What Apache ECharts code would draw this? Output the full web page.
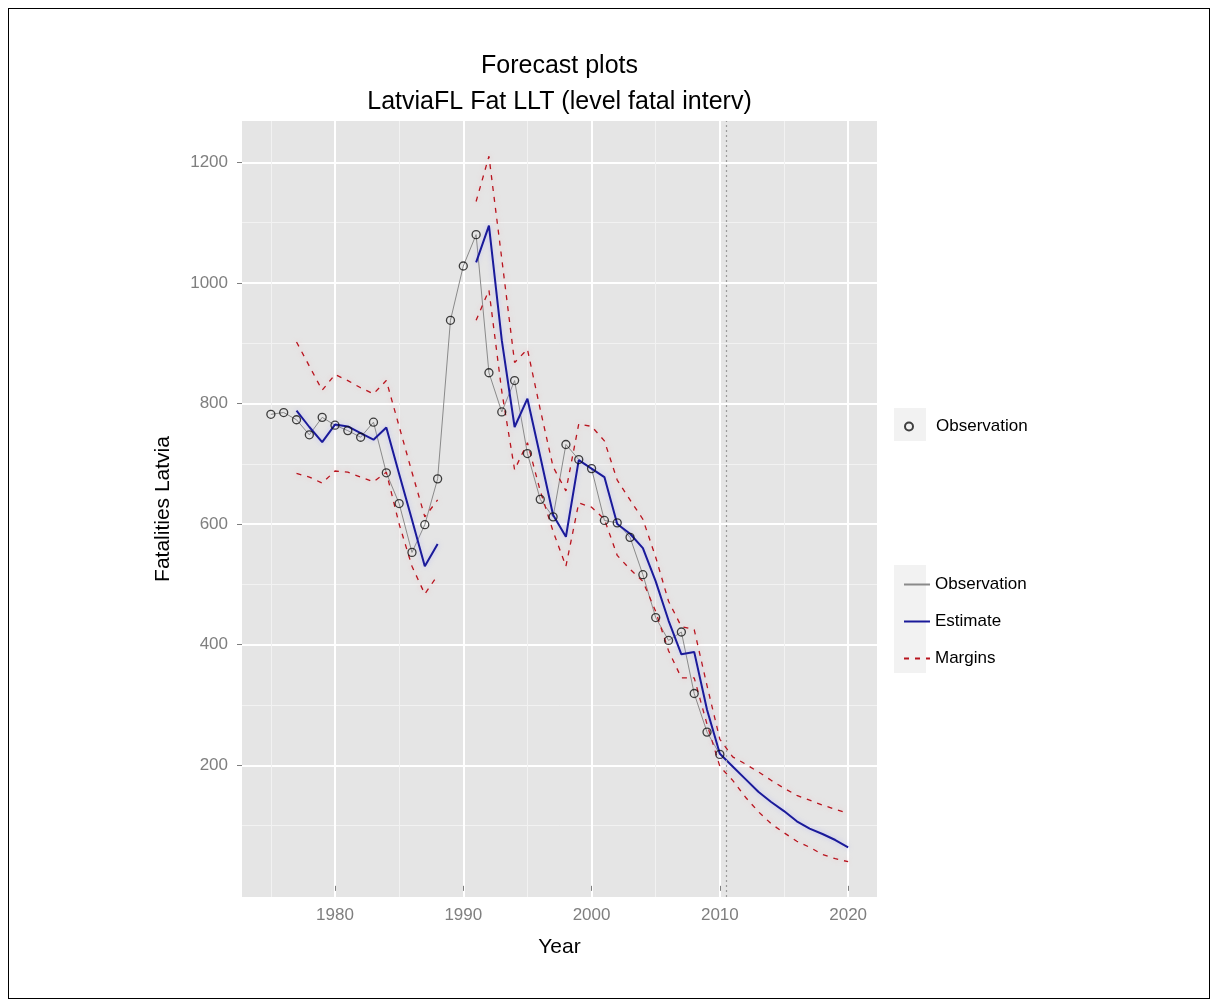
<!DOCTYPE html>
<html>
<head>
<meta charset="UTF-8">
<title>Forecast plots - LatviaFL Fat LLT</title>
<script src="https://cdn.jsdelivr.net/npm/echarts@6/dist/echarts.min.js"></script>
<style>
  html, body { margin: 0; padding: 0; background: #fff; }
  #frame { position: absolute; left: 8px; top: 8px; width: 1200px; height: 989px; border: 1px solid #000; }
  #main { position: absolute; left: 0; top: 0; width: 1216px; height: 1005px; }
</style>
</head>
<body>
<div id="frame"></div>
<div id="main"></div>
<script>
// observed fatalities 1975-2010
var obsYears = [1975,1976,1977,1978,1979,1980,1981,1982,1983,1984,1985,1986,1987,1988,1989,1990,1991,1992,
                1993,1994,1995,1996,1997,1998,1999,2000,2001,2002,2003,2004,2005,2006,2007,2008,2009,2010];
var observed = [782,785,773,748,777,764,755,744,769,685,634,553,599,675,938,1028,1080,851,
                786,838,717,641,612,732,707,692,606,602,578,516,445,407,421,319,255,218];

// model estimate and margins 1977-2020 (gap 1989-1990)
var fitYears = [1977,1978,1979,1980,1981,1982,1983,1984,1985,1986,1987,1988,1989,1990,
                1991,1992,1993,1994,1995,1996,1997,1998,1999,2000,2001,2002,2003,2004,2005,2006,2007,2008,2009,2010,
                2011,2012,2013,2014,2015,2016,2017,2018,2019,2020];
var estimate = [788,761,736,765,762,751,740,760,683,607,530,567,null,null,
                1034,1095,905,761,808,712,615,579,706,692,678,600,584,560,505,440,384,388,292,219,
                198,177,156,139,124,107,95,86,76,64];
var upper = [902,862,822,848,838,826,816,838,762,686,612,640,null,null,
             1135,1210,1040,868,890,790,695,655,766,762,738,673,640,608,545,472,430,425,332,243,
             214,202,189,175,162,150,142,134,127,120];
var lower = [684,678,668,688,686,678,670,686,600,530,484,515,null,null,
             938,988,820,690,735,655,588,530,635,628,608,548,525,505,455,390,345,345,268,198,
             175,147,123,103,88,74,64,52,45,40];

var xMajor = [1980,1990,2000,2010,2020];
var xMinor = [1975,1985,1995,2005,2015];
var yMajor = [200,400,600,800,1000,1200];
var yMinor = [100,300,500,700,900,1100];
var forecastStart = 2010.5;

function pairs(xs, ys) {
  return xs.map(function (x, i) { return [x, ys[i]]; });
}

var FONT = 'Liberation Sans, Arial, sans-serif';
var grey = '#7f7f7f';

var myChart = echarts.init(document.getElementById('main'), null, { renderer: 'canvas' });

var option = {
  backgroundColor: 'transparent',
  animation: false,
  textStyle: { fontFamily: FONT },
  grid: {
    left: 242, right: 339, top: 121, bottom: 108,
    show: true, backgroundColor: '#e5e5e5', borderWidth: 0
  },
  graphic: [
    { type: 'text', x: 559.5, y: 66, style: { text: 'Forecast plots', fontFamily: FONT, fontSize: 25, fill: '#000', align: 'center', verticalAlign: 'middle' } },
    { type: 'text', x: 559.5, y: 102, style: { text: 'LatviaFL Fat LLT (level fatal interv)', fontFamily: FONT, fontSize: 25, fill: '#000', align: 'center', verticalAlign: 'middle' } },
    { type: 'rect', shape: { x: 894, y: 408, width: 32, height: 33 }, style: { fill: '#f2f2f2' }, z: -1 },
    { type: 'rect', shape: { x: 894, y: 565, width: 32, height: 108 }, style: { fill: '#f2f2f2' }, z: -1 }
  ],
  legend: [
    {
      data: ['Observation'],
      left: 899, top: 413, orient: 'vertical',
      itemWidth: 8, itemHeight: 8, itemGap: 10,
      textStyle: { fontSize: 17, color: '#000', fontFamily: FONT, padding: [0, 0, 0, 18] }
    },
    {
      data: ['Observation line', 'Estimate', 'Margins'],
      left: 898, top: 571, orient: 'vertical',
      itemWidth: 26, itemHeight: 14, itemGap: 20,
      itemStyle: { opacity: 0 },
      formatter: function (name) { return name === 'Observation line' ? 'Observation' : name; },
      textStyle: { fontSize: 17, color: '#000', fontFamily: FONT }
    }
  ],
  xAxis: [
    {
      type: 'value', min: 1972.75, max: 2022.25,
      name: 'Year', nameLocation: 'middle', nameGap: 40,
      nameTextStyle: { fontSize: 21, color: '#000' },
      axisLine: { show: false },
      axisTick: { show: true, length: 5, lineStyle: { color: grey }, customValues: xMajor },
      axisLabel: { color: grey, fontSize: 17, margin: 10, customValues: xMajor, formatter: function (v) { return String(v); } },
      splitLine: { show: true, lineStyle: { color: '#ffffff', width: 2 } }
    },
    {
      type: 'value', min: 1972.75, max: 2022.25, position: 'top',
      axisLine: { show: false },
      axisTick: { show: false, customValues: xMinor },
      axisLabel: { show: false, customValues: xMinor },
      splitLine: { show: true, lineStyle: { color: '#f2f2f2', width: 1 } }
    }
  ],
  yAxis: [
    {
      type: 'value', min: -18.5, max: 1268.5,
      name: 'Fatalities Latvia', nameLocation: 'middle', nameGap: 68, nameRotate: 90,
      nameTextStyle: { fontSize: 21, color: '#000' },
      axisLine: { show: false },
      axisTick: { show: true, length: 5, lineStyle: { color: grey }, customValues: yMajor },
      axisLabel: { color: grey, fontSize: 17, margin: 14, customValues: yMajor, formatter: function (v) { return String(v); } },
      splitLine: { show: true, lineStyle: { color: '#ffffff', width: 2 } }
    },
    {
      type: 'value', min: -18.5, max: 1268.5, position: 'right',
      axisLine: { show: false },
      axisTick: { show: false, customValues: yMinor },
      axisLabel: { show: false, customValues: yMinor },
      splitLine: { show: true, lineStyle: { color: '#f2f2f2', width: 1 } }
    }
  ],
  series: [
    {
      name: 'Observation line', type: 'line', data: pairs(obsYears, observed),
      symbol: 'none', lineStyle: { color: '#8a8a8a', width: 1 }, itemStyle: { color: '#8a8a8a' },
      z: 2,
      markLine: {
        silent: true, symbol: 'none', label: { show: false },
        lineStyle: { color: '#9a9a9a', type: [2, 3], width: 1.2 },
        data: [{ xAxis: forecastStart }]
      }
    },
    {
      name: 'Margins', type: 'line', data: pairs(fitYears, upper),
      symbol: 'none', connectNulls: false,
      lineStyle: { color: '#b8141e', width: 1.3, type: [5, 6], shadowColor: 'rgba(255,160,170,0.55)', shadowBlur: 5 },
      itemStyle: { color: '#b8141e' }, z: 3
    },
    {
      name: 'Margins', type: 'line', data: pairs(fitYears, lower),
      symbol: 'none', connectNulls: false,
      lineStyle: { color: '#b8141e', width: 1.3, type: [5, 6], shadowColor: 'rgba(255,160,170,0.55)', shadowBlur: 5 },
      itemStyle: { color: '#b8141e' }, z: 3
    },
    {
      name: 'Estimate', type: 'line', data: pairs(fitYears, estimate),
      symbol: 'none', connectNulls: false,
      lineStyle: { color: '#1a1a9a', width: 2, shadowColor: 'rgba(170,170,255,0.6)', shadowBlur: 5 },
      itemStyle: { color: '#1a1a9a' }, z: 4
    },
    {
      name: 'Observation', type: 'scatter', data: pairs(obsYears, observed),
      symbol: 'circle', symbolSize: 8,
      itemStyle: { color: 'rgba(0,0,0,0)', borderColor: '#111', borderWidth: 1.3 },
      z: 5
    }
  ]
};

myChart.setOption(option);
</script>
</body>
</html>
